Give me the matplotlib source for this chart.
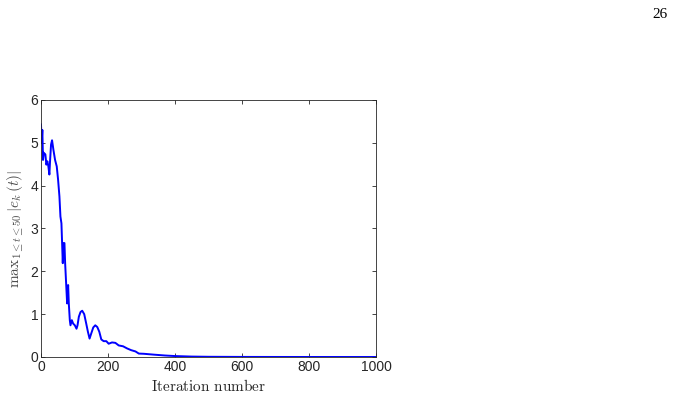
import matplotlib
matplotlib.use("Agg")
import matplotlib.pyplot as plt
import numpy as np

# values
iters = [0, 2, 4, 6, 8, 13, 16, 19, 22, 25, 27, 30, 33, 37, 42, 47, 51, 55, 58,
         61, 63, 65, 67, 70, 72, 75, 78, 81, 83, 86, 88, 92, 96, 101, 106, 109,
         113, 118, 123, 129, 135, 140, 145, 150, 156, 162, 168, 174, 180, 187,
         195, 202, 212, 222, 232, 245, 257, 269, 282, 292, 307, 337, 370, 400,
         450, 500, 600, 700, 800, 900, 1000]
err = [5.43, 5.0, 5.3, 4.6, 4.77, 4.73, 4.49, 4.57, 4.45, 4.26, 4.57, 4.96, 5.06,
       4.84, 4.6, 4.45, 4.14, 3.75, 3.28, 3.12, 2.66, 2.19, 2.66, 2.66, 2.2,
       1.72, 1.25, 1.68, 1.25, 0.86, 0.74, 0.86, 0.78, 0.74, 0.66, 0.74, 0.94,
       1.05, 1.08, 1.0, 0.78, 0.59, 0.43, 0.55, 0.69, 0.74, 0.70, 0.59, 0.41,
       0.37, 0.37, 0.31, 0.34, 0.33, 0.27, 0.25, 0.2, 0.16, 0.13, 0.08, 0.075,
       0.055, 0.035, 0.022, 0.01, 0.005, 0.002, 0.001, 0.0005, 0.0003, 0.0002]

plt.rcParams["mathtext.fontset"] = "cm"
plt.rcParams["font.family"] = ["Liberation Sans", "DejaVu Sans"]
edge = (0.15, 0.15, 0.15)

fig = plt.figure(figsize=(6.75, 4.01), dpi=100)
ax = fig.add_axes([41 / 675, 1 - 357 / 401, 335 / 675, 257 / 401])
ax.plot(iters, err, color="#0000ff", lw=1.4)
ax.set_xlim(0, 1000)
ax.set_ylim(0, 6)
ax.set_xticks(np.arange(0, 1001, 200))
ax.set_yticks(np.arange(0, 7, 1))
ax.tick_params(direction="in", top=True, right=True, labelsize=10,
               colors=edge, length=3, width=0.6, pad=2)
for s in ax.spines.values():
    s.set_color(edge)
    s.set_linewidth(0.6)

ax.set_xlabel(r"$\mathrm{Iteration\ number}$", fontsize=11, color=edge, labelpad=3)
ax.set_ylabel(r"$\mathrm{max}_{1\leq t\leq 50}\,|e_k\,(t)|$", fontsize=11,
              color=(0.3, 0.3, 0.3), labelpad=3)

fig.text(660 / 675, 1 - 14 / 401, "26", fontsize=11, family="Liberation Serif",
         ha="center", va="center", color="black")

fig.savefig("out.png", dpi=100)
